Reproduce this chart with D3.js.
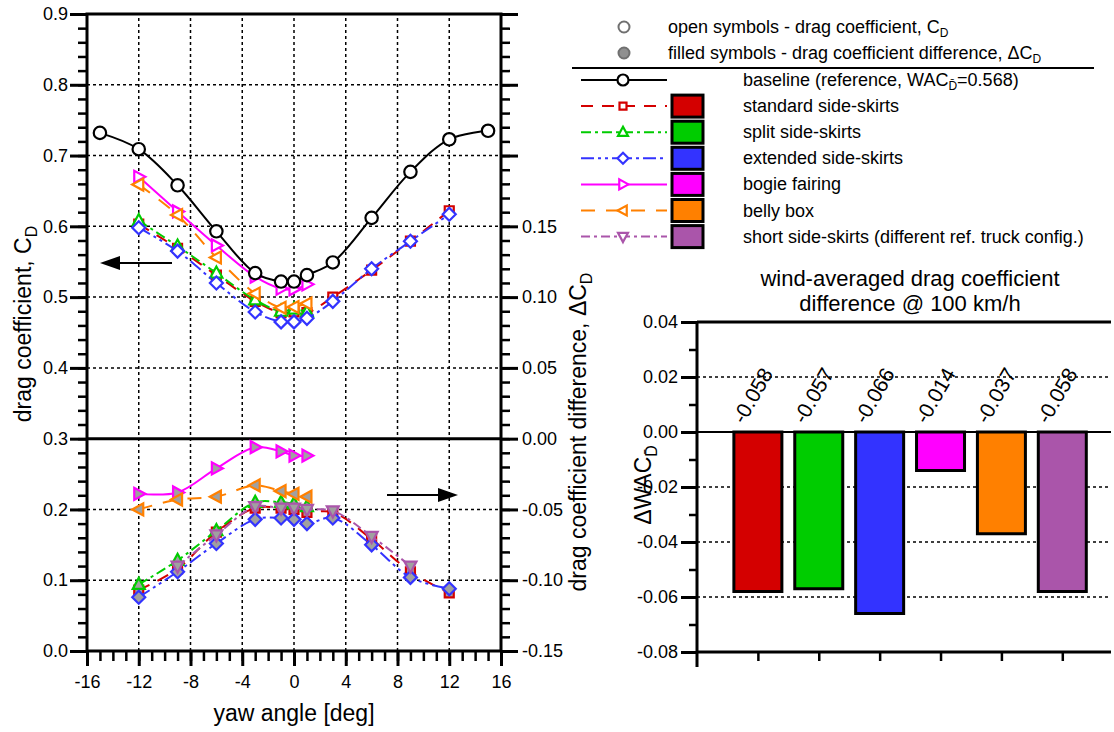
<!DOCTYPE html>
<html>
<head>
<meta charset="utf-8">
<script src="https://cdn.jsdelivr.net/npm/d3@7"></script>
<style>
  body { margin: 0; background: #fff; }
  svg { font-family: "Liberation Sans", Arial, sans-serif; }
  .grid { stroke: #000; stroke-width: 1.5; stroke-dasharray: 3,3; }
</style>
</head>
<body>
<svg id="chart" width="1114" height="732"></svg>
<script>
// ---- data ----
const yawBaseline = [-15, -12, -9, -6, -3, -1, 0, 1, 3, 6, 9, 12, 15];
const cdBaseline = [0.732, 0.709, 0.658, 0.593, 0.534, 0.522, 0.522, 0.531, 0.549, 0.612, 0.677, 0.723, 0.735];

const yawFull = [-12, -9, -6, -3, -1, 0, 1, 3, 6, 9, 12];
const yawNeg = [-12, -9, -6, -3, -1, 0, 1];
const yawShort = [-9, -6, -3, -1, 0, 1, 3, 6, 9];

const cdStandard = [0.603, 0.569, 0.531, 0.494, 0.478, 0.479, 0.478, 0.500, 0.538, 0.579, 0.622];
const dcdStandard = [-0.107, -0.092, -0.066, -0.049, -0.049, -0.050, -0.052, -0.052, -0.071, -0.094, -0.109];

const cdSplit = [0.608, 0.572, 0.534, 0.496, 0.480, 0.483, 0.479];
const dcdSplit = [-0.103, -0.086, -0.065, -0.045, -0.045, -0.046, -0.048];

const cdExtended = [0.598, 0.565, 0.520, 0.479, 0.465, 0.465, 0.470, 0.494, 0.540, 0.579, 0.617];
const dcdExtended = [-0.112, -0.094, -0.074, -0.057, -0.056, -0.057, -0.060, -0.056, -0.075, -0.098, -0.106];

const cdBogie = [0.670, 0.621, 0.573, 0.529, 0.512, 0.511, 0.518];
const dcdBogie = [-0.039, -0.038, -0.021, -0.006, -0.009, -0.012, -0.012];

const cdBelly = [0.659, 0.616, 0.556, 0.505, 0.485, 0.486, 0.491];
const dcdBelly = [-0.050, -0.043, -0.041, -0.033, -0.037, -0.039, -0.041];

const dcdShort = [-0.090, -0.068, -0.048, -0.049, -0.049, -0.050, -0.051, -0.069, -0.090];

const configNames = ["standard side-skirts", "split side-skirts", "extended side-skirts",
  "bogie fairing", "belly box", "short side-skirts (different ref. truck config.)"];
const wacDiff = [-0.058, -0.057, -0.066, -0.014, -0.037, -0.058];

const xTicks = [-16, -12, -8, -4, 0, 4, 8, 12, 16];
const barTicks = [0.04, 0.02, 0.00, -0.02, -0.04, -0.06, -0.08];

// ---- series setup ----
const series = [
  { name: configNames[0], color: "#d40000", dash: "12,9", marker: "square", yaw: yawFull, cd: cdStandard, dcd: dcdStandard },
  { name: configNames[1], color: "#00cc00", dash: "10,4,3,4", marker: "up", yaw: yawNeg, cd: cdSplit, dcd: dcdSplit },
  { name: configNames[2], color: "#3333ff", dash: "13,4,3,4,3,4", marker: "diamond", yaw: yawFull, cd: cdExtended, dcd: dcdExtended },
  { name: configNames[3], color: "#ff00ff", dash: null, marker: "right", yaw: yawNeg, cd: cdBogie, dcd: dcdBogie },
  { name: configNames[4], color: "#ff8000", dash: "14,11", marker: "left", yaw: yawNeg, cd: cdBelly, dcd: dcdBelly },
  { name: configNames[5], color: "#aa55aa", dash: "9,4,3,4", marker: "down", yaw: yawShort, cd: null, dcd: dcdShort }
];

// d3 uses a true minus sign; the reference uses a hyphen
const hyphen = (f) => (d) => f(d).replace("\u2212", "-");

function markerPath(type, r) {
  switch (type) {
    case "circle":
      return d3.symbol(d3.symbolCircle, Math.PI * r * r)();
    case "square":
      return `M${-r},${-r}H${r}V${r}H${-r}Z`;
    case "up":
      return `M0,${-r * 1.1}L${r},${r * 0.75}L${-r},${r * 0.75}Z`;
    case "down":
      return `M0,${r * 1.1}L${r},${-r * 0.75}L${-r},${-r * 0.75}Z`;
    case "right":
      return `M${r * 1.1},0L${-r * 0.75},${r}L${-r * 0.75},${-r}Z`;
    case "left":
      return `M${-r * 1.1},0L${r * 0.75},${r}L${r * 0.75},${-r}Z`;
    default:
      return `M0,${-r}L${r},0L0,${r}L${-r},0Z`;
  }
}
const markerSize = { circle: 6, square: 4.5, up: 6, down: 6, right: 6, left: 6, diamond: 6.5 };

const svg = d3.select("#chart");

// ===================== yaw sweep chart =====================
const x = d3.scaleLinear().domain([-16, 16]).range([87, 501]);
const y = d3.scaleLinear().domain([0, 0.9]).range([651, 14]);
const yDiff = d3.scaleLinear().domain([-0.15, 0.3]).range([651, 14]);

const sweep = svg.append("g");

// dotted grid
sweep.selectAll(".vgrid")
  .data(d3.range(-12, 13, 4))
  .join("line")
  .attr("class", "grid vgrid")
  .attr("x1", (d) => x(d)).attr("x2", (d) => x(d))
  .attr("y1", y(0)).attr("y2", y(0.9));
sweep.selectAll(".hgrid")
  .data([0.1, 0.2, 0.4, 0.5, 0.6, 0.7, 0.8])
  .join("line")
  .attr("class", "grid hgrid")
  .attr("x1", x(-16)).attr("x2", x(16))
  .attr("y1", (d) => y(d)).attr("y2", (d) => y(d));

function styleAxis(g, width) {
  g.select(".domain").remove();
  g.selectAll("line").attr("stroke", "#000").attr("stroke-width", width);
  g.selectAll("text").attr("font-size", 18).attr("fill", "#000").attr("font-family", "Liberation Sans, Arial, sans-serif");
}

// left axis
sweep.append("g").attr("transform", `translate(${x(-16)},0)`)
  .call(d3.axisLeft(y).tickValues(d3.range(0, 0.901, 0.02)).tickSize(9).tickFormat(""))
  .call((g) => styleAxis(g, 2.5));
sweep.append("g").attr("transform", `translate(${x(-16)},0)`)
  .call(d3.axisLeft(y).tickValues(d3.range(0, 0.901, 0.1)).tickSize(17).tickPadding(2).tickFormat(d3.format(".1f")))
  .call((g) => styleAxis(g, 3));

// right axis (delta C_D)
sweep.append("g").attr("transform", `translate(${x(16)},0)`)
  .call(d3.axisRight(yDiff).tickValues(d3.range(-0.15, 0.301, 0.01)).tickSize(9).tickFormat(""))
  .call((g) => styleAxis(g, 2.5));
sweep.append("g").attr("transform", `translate(${x(16)},0)`)
  .call(d3.axisRight(yDiff).tickValues(d3.range(-0.15, 0.301, 0.05)).tickSize(17).tickPadding(4)
    .tickFormat((d) => (d < 0.151 ? hyphen(d3.format(".2f"))(d) : "")))
  .call((g) => styleAxis(g, 3));

// bottom axis
sweep.append("g").attr("transform", `translate(0,${y(0)})`)
  .call(d3.axisBottom(x).tickValues(d3.range(-16, 17, 1)).tickSize(10).tickFormat(""))
  .call((g) => styleAxis(g, 2.5));
sweep.append("g").attr("transform", `translate(0,${y(0)})`)
  .call(d3.axisBottom(x).tickValues(xTicks).tickSize(15).tickPadding(9).tickFormat(hyphen(d3.format("d"))))
  .call((g) => styleAxis(g, 3));

// frame and panel divider
sweep.append("rect")
  .attr("x", x(-16)).attr("y", y(0.9))
  .attr("width", x(16) - x(-16)).attr("height", y(0) - y(0.9))
  .attr("fill", "none").attr("stroke", "#000").attr("stroke-width", 3);
sweep.append("line")
  .attr("x1", x(-16)).attr("x2", x(16))
  .attr("y1", y(0.3)).attr("y2", y(0.3))
  .attr("stroke", "#000").attr("stroke-width", 3);

const curve = d3.curveCatmullRom.alpha(0.5);

function drawSeries(s) {
  const up = s.cd ? s.yaw.map((v, i) => [v, s.cd[i]]) : [];
  const low = s.yaw.map((v, i) => [v, s.dcd[i]]);
  const r = markerSize[s.marker];

  [[up, y, "#fff"], [low, yDiff, "#a0a0a0"]].forEach(([pts, scale, fill]) => {
    if (!pts.length) return;
    sweep.append("path")
      .datum(pts)
      .attr("fill", "none")
      .attr("stroke", s.color)
      .attr("stroke-width", 2)
      .attr("stroke-dasharray", s.dash)
      .attr("d", d3.line().x((d) => x(d[0])).y((d) => scale(d[1])).curve(curve));
    sweep.append("g")
      .selectAll("path")
      .data(pts)
      .join("path")
      .attr("transform", (d) => `translate(${x(d[0])},${scale(d[1])})`)
      .attr("d", markerPath(s.marker, r))
      .attr("fill", fill)
      .attr("stroke", s.color)
      .attr("stroke-width", 2.2);
  });
}
series.forEach(drawSeries);

// baseline
const basePts = yawBaseline.map((v, i) => [v, cdBaseline[i]]);
sweep.append("path")
  .datum(basePts)
  .attr("fill", "none").attr("stroke", "#000").attr("stroke-width", 2)
  .attr("d", d3.line().x((d) => x(d[0])).y((d) => y(d[1])).curve(curve));
sweep.append("g")
  .selectAll("circle")
  .data(basePts)
  .join("circle")
  .attr("cx", (d) => x(d[0])).attr("cy", (d) => y(d[1]))
  .attr("r", 6.2)
  .attr("fill", "#fff").attr("stroke", "#000").attr("stroke-width", 2.2);

// axis arrows
function arrow(x0, x1, yy) {
  const dir = Math.sign(x1 - x0);
  sweep.append("line")
    .attr("x1", x0).attr("x2", x1 - dir * 18)
    .attr("y1", yy).attr("y2", yy)
    .attr("stroke", "#000").attr("stroke-width", 2);
  sweep.append("path")
    .attr("d", `M${x1},${yy}L${x1 - dir * 20},${yy - 7}L${x1 - dir * 20},${yy + 7}Z`)
    .attr("fill", "#000");
}
arrow(172, 100, 263);
arrow(387, 458, 495);

// axis titles
sweep.append("text")
  .attr("x", x(0)).attr("y", 721)
  .attr("text-anchor", "middle").attr("font-size", 23)
  .text("yaw angle [deg]");

const leftTitle = sweep.append("text")
  .attr("transform", "translate(31,324) rotate(-90)")
  .attr("text-anchor", "middle").attr("font-size", 23);
leftTitle.append("tspan").text("drag coefficient, C");
leftTitle.append("tspan").attr("font-size", 16).attr("dy", 6).text("D");

const rightTitle = sweep.append("text")
  .attr("transform", "translate(586,432) rotate(-90)")
  .attr("text-anchor", "middle").attr("font-size", 23);
rightTitle.append("tspan").text("drag coefficient difference, \u0394C");
rightTitle.append("tspan").attr("font-size", 16).attr("dy", 6).text("D");

// ===================== legend =====================
const legend = svg.append("g").attr("font-size", 18);

legend.append("circle").attr("cx", 624).attr("cy", 27).attr("r", 5.5)
  .attr("fill", "#fff").attr("stroke", "#707070").attr("stroke-width", 2);
legend.append("circle").attr("cx", 624).attr("cy", 53).attr("r", 5.5)
  .attr("fill", "#909090").attr("stroke", "#707070").attr("stroke-width", 2);

const t1 = legend.append("text").attr("x", 668).attr("y", 33);
t1.append("tspan").text("open symbols - drag coefficient, C");
t1.append("tspan").attr("font-size", 12).attr("dy", 4).text("D");
const t2 = legend.append("text").attr("x", 668).attr("y", 59);
t2.append("tspan").text("filled symbols  - drag coefficient difference, \u0394C");
t2.append("tspan").attr("font-size", 12).attr("dy", 4).text("D");

legend.append("line")
  .attr("x1", 572).attr("x2", 1094).attr("y1", 68).attr("y2", 68)
  .attr("stroke", "#000").attr("stroke-width", 2);

const rowY = (i) => 80 + i * 26.1;

// baseline row
legend.append("line").attr("x1", 581).attr("x2", 667).attr("y1", rowY(0)).attr("y2", rowY(0))
  .attr("stroke", "#000").attr("stroke-width", 2);
legend.append("circle").attr("cx", 623).attr("cy", rowY(0)).attr("r", 5.5)
  .attr("fill", "#fff").attr("stroke", "#000").attr("stroke-width", 2.2);
const tb = legend.append("text").attr("x", 743).attr("y", rowY(0) + 6);
tb.append("tspan").text("baseline (reference, WAC");
tb.append("tspan").attr("font-size", 12).attr("dy", 4).text("D\u0304");
tb.append("tspan").attr("dy", -4).text("=0.568)");

series.forEach((s, i) => {
  const yy = rowY(i + 1);
  legend.append("line").attr("x1", 581).attr("x2", 667).attr("y1", yy).attr("y2", yy)
    .attr("stroke", s.color).attr("stroke-width", 2).attr("stroke-dasharray", s.dash);
  legend.append("path")
    .attr("transform", `translate(623,${yy})`)
    .attr("d", markerPath(s.marker, markerSize[s.marker] - 1))
    .attr("fill", "#fff").attr("stroke", s.color).attr("stroke-width", 2.2);
  legend.append("rect")
    .attr("x", 672).attr("y", yy - 11).attr("width", 31).attr("height", 22)
    .attr("fill", s.color).attr("stroke", "#000").attr("stroke-width", 3);
  legend.append("text").attr("x", 743).attr("y", yy + 6).text(s.name);
});

// ===================== wind-averaged bar chart =====================
const bx = d3.scaleLinear().domain([0, 6.8]).range([697, 1111]);
const by = d3.scaleLinear().domain([-0.08, 0.04]).range([652, 322]);
const bars = svg.append("g");

bars.selectAll(".bgrid")
  .data([0.02, -0.02, -0.04, -0.06])
  .join("line")
  .attr("class", "grid bgrid")
  .attr("x1", bx(0)).attr("x2", bx(6.8))
  .attr("y1", (d) => by(d)).attr("y2", (d) => by(d));

bars.append("g").attr("transform", `translate(${bx(0)},0)`)
  .call(d3.axisLeft(by).tickValues(d3.range(-0.08, 0.0401, 0.01)).tickSize(8).tickFormat(""))
  .call((g) => styleAxis(g, 2.5));
bars.append("g").attr("transform", `translate(${bx(0)},0)`)
  .call(d3.axisLeft(by).tickValues(barTicks).tickSize(16).tickPadding(3).tickFormat(hyphen(d3.format(".2f"))))
  .call((g) => styleAxis(g, 3));
bars.append("g").attr("transform", `translate(0,${by(-0.08)})`)
  .call(d3.axisBottom(bx).tickValues(d3.range(1, 7)).tickSize(9).tickFormat(""))
  .call((g) => styleAxis(g, 2.5));

[[by(0.04), 3], [by(-0.08), 3], [by(0), 2]].forEach(([yy, w]) => {
  bars.append("line").attr("x1", bx(0)).attr("x2", bx(6.8)).attr("y1", yy).attr("y2", yy)
    .attr("stroke", "#000").attr("stroke-width", w);
});
bars.append("line").attr("x1", bx(0)).attr("x2", bx(0)).attr("y1", by(0.04)).attr("y2", by(-0.08) + 15)
  .attr("stroke", "#000").attr("stroke-width", 3);

bars.selectAll("rect")
  .data(wacDiff)
  .join("rect")
  .attr("x", (d, i) => bx(i + 1) - 24)
  .attr("width", 48)
  .attr("y", by(0))
  .attr("height", (d) => by(d) - by(0))
  .attr("fill", (d, i) => series[i].color)
  .attr("stroke", "#000").attr("stroke-width", 3);

bars.selectAll(".vlabel")
  .data(wacDiff)
  .join("text")
  .attr("class", "vlabel")
  .attr("transform", (d, i) => `translate(${bx(i + 1) - 14},${by(0) - 7}) rotate(-60)`)
  .attr("font-size", 21)
  .text(hyphen(d3.format(".3f")));

bars.append("text").attr("x", 910).attr("y", 286).attr("text-anchor", "middle").attr("font-size", 22)
  .text("wind-averaged drag coefficient");
bars.append("text").attr("x", 910).attr("y", 311).attr("text-anchor", "middle").attr("font-size", 22)
  .text("difference @ 100 km/h");

const barTitle = bars.append("text")
  .attr("transform", "translate(651,485) rotate(-90)")
  .attr("text-anchor", "middle").attr("font-size", 23);
barTitle.append("tspan").text("\u0394WAC");
barTitle.append("tspan").attr("font-size", 16).attr("dy", 6).text("D\u0304");
</script>
</body>
</html>
